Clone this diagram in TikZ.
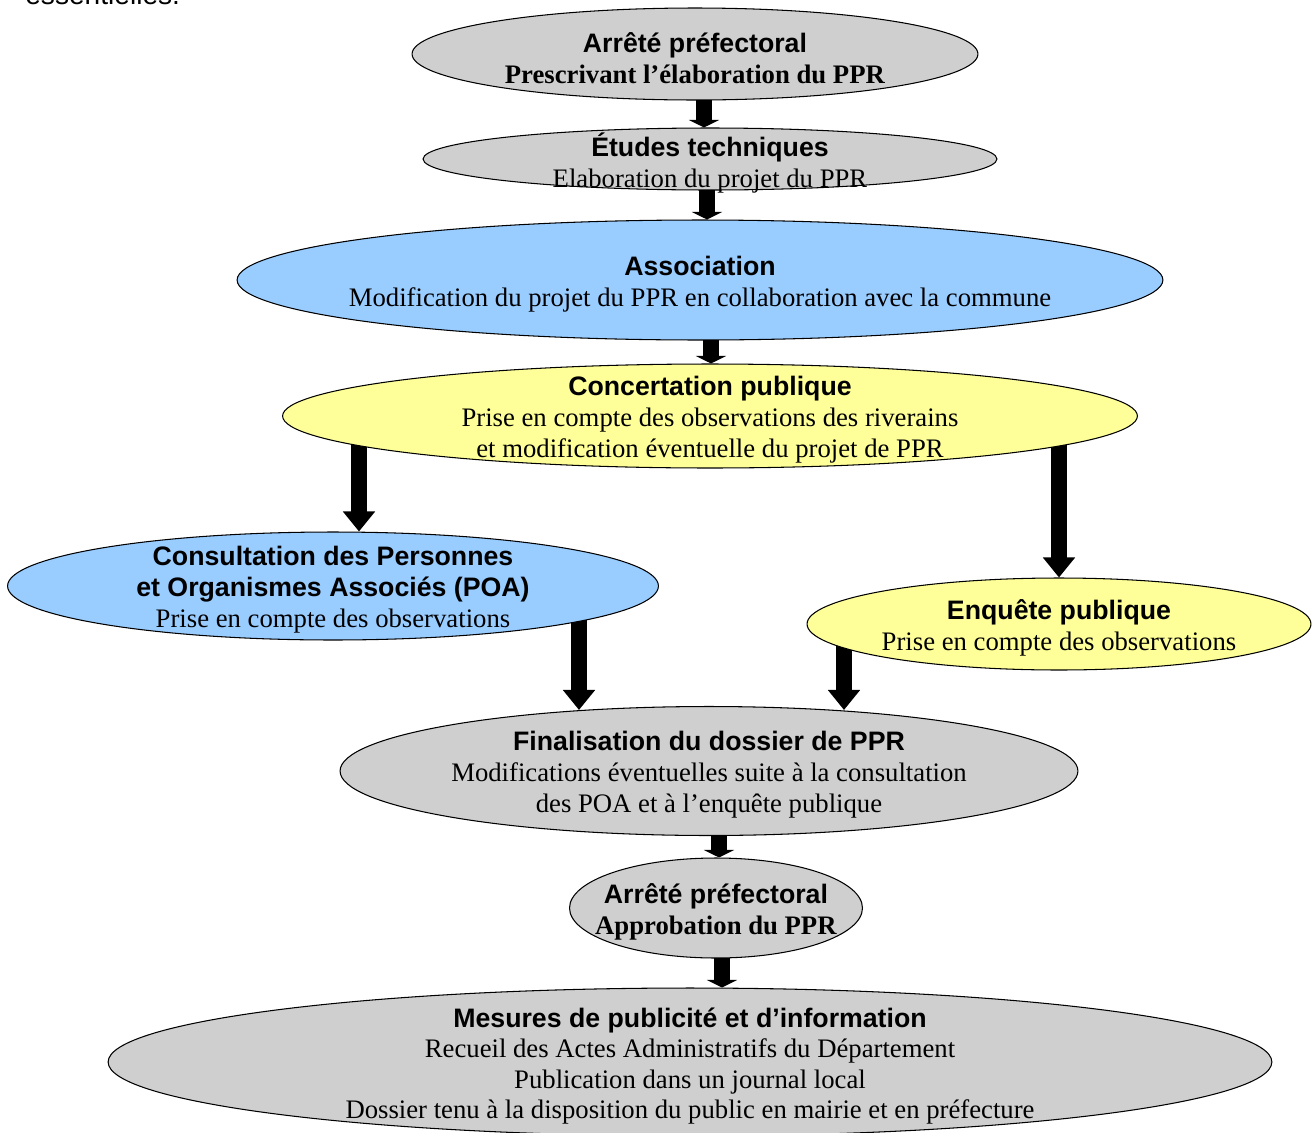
\documentclass[tikz,border=0pt]{standalone}
\usepackage{fontspec}
\setmainfont{Liberation Serif}
\setsansfont{Liberation Sans}
\usetikzlibrary{shapes.geometric,arrows.meta,backgrounds}
\definecolor{boxgray}{HTML}{CFCFCF}
\definecolor{boxblue}{HTML}{99CCFF}
\definecolor{boxyellow}{HTML}{FFFF99}
\newcommand{\ttl}[1]{{\sffamily\bfseries #1}}

\begin{document}
\begin{tikzpicture}[x=0.02cm, y=-0.02cm,
    etape/.style={ellipse, draw, line width=0.6pt, inner sep=0pt},
    etxt/.style={align=center, inner sep=0pt, yshift=-0.08cm,
      font=\fontsize{15.2}{17.6}\selectfont},
    longarrow/.style={line width=0.32cm, -{Triangle[width=0.62cm,length=0.4cm]}},
    shortarrow/.style={line width=0.32cm, -{Triangle[width=0.6cm,length=0.15cm]}}]
  \useasboundingbox (0,0) rectangle (1313,1133);

  % end of the preceding paragraph, cut by the page
  \node[font=\sffamily\fontsize{16}{19}\selectfont, anchor=base west, inner sep=0pt]
    (prev) at (25,4) {essentielles.};

  % Steps of the procedure
  \node[etape, fill=boxgray, minimum width=11.32cm, minimum height=1.84cm,
    label={[etxt]center:{\ttl{Arrêté préfectoral}\\\textbf{Prescrivant l’élaboration du PPR}}}]
    (arr1) at (695,54) {};
  \node[etape, fill=boxgray, minimum width=11.48cm, minimum height=1.24cm,
    label={[etxt]center:{\ttl{Études techniques}\\Elaboration du projet du PPR}}]
    (etudes) at (710,159) {};
  \node[etape, fill=boxblue, minimum width=18.52cm, minimum height=2.4cm,
    label={[etxt]center:{\ttl{Association}\\
      Modification du projet du PPR en collaboration avec la commune}}]
    (assoc) at (700,280) {};
  \node[etape, fill=boxyellow, minimum width=17.1cm, minimum height=2.08cm,
    label={[etxt]center:{\ttl{Concertation publique}\\
      Prise en compte des observations des riverains\\
      et modification éventuelle du projet de PPR}}]
    (conc) at (710,416) {};
  \node[etape, fill=boxblue, minimum width=13.02cm, minimum height=2.16cm,
    label={[etxt]center:{\ttl{Consultation des Personnes}\\
      \ttl{et Organismes Associés (POA)}\\Prise en compte des observations}}]
    (poa) at (333,586) {};
  \node[etape, fill=boxyellow, minimum width=10.08cm, minimum height=1.84cm,
    label={[etxt]center:{\ttl{Enquête publique}\\Prise en compte des observations}}]
    (enq) at (1059,624) {};
  \node[etape, fill=boxgray, minimum width=14.76cm, minimum height=2.58cm,
    label={[etxt]center:{\ttl{Finalisation du dossier de PPR}\\
      Modifications éventuelles suite à la consultation\\
      des POA et à l’enquête publique}}]
    (fin) at (709,771) {};
  \node[etape, fill=boxgray, minimum width=5.86cm, minimum height=2cm,
    label={[etxt]center:{\ttl{Arrêté préfectoral}\\\textbf{Approbation du PPR}}}]
    (arr2) at (716,908) {};
  \node[etape, fill=boxgray, minimum width=23.28cm, minimum height=2.96cm,
    label={[etxt, font=\fontsize{15.2}{17.2}\selectfont]center:{%
      \ttl{Mesures de publicité et d’information}\\
      Recueil des Actes Administratifs du Département\\
      Publication dans un journal local\\
      Dossier tenu à la disposition du public en mairie et en préfecture}}]
    (mes) at (690,1062) {};

  % Block arrows, behind the ellipses
  \begin{scope}[on background layer]
    \draw[shortarrow] (arr1.center -| 704,0) -- (etudes.north -| 704,0);
    \draw[shortarrow] (etudes.center -| 707,0) -- (assoc.north -| 707,0);
    \draw[shortarrow] (assoc.center -| 711,0) -- (conc.north -| 711,0);
    \draw[longarrow] (conc.center -| 359,0) -- (poa.north -| 359,0);
    \draw[longarrow] (conc.center -| 1059,0) -- (enq.north);
    \draw[longarrow, shorten >=-0.08cm] (poa.center -| 579,0) -- (fin.north -| 579,0);
    \draw[longarrow, shorten >=-0.08cm] (enq.center -| 844,0) -- (fin.north -| 844,0);
    \draw[shortarrow] (fin.center -| 719,0) -- (arr2.north -| 719,0);
    \draw[shortarrow] (arr2.center -| 722,0) -- (mes.north -| 722,0);
  \end{scope}
\end{tikzpicture}
\end{document}
